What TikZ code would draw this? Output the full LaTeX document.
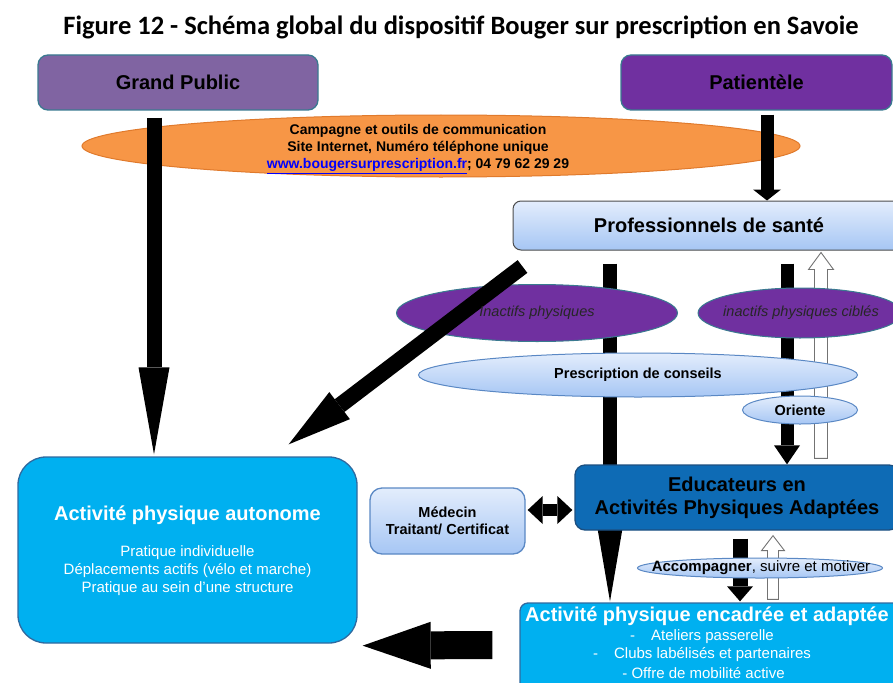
\documentclass[tikz,border=0pt]{standalone}
\usepackage{fontspec}
\setmainfont{Liberation Sans}
\newfontfamily\titlefont{Carlito}
\usetikzlibrary{shapes.geometric,arrows.meta,calc}
\pgfdeclarelayer{back}\pgfdeclarelayer{bg}\pgfdeclarelayer{front}\pgfdeclarelayer{top}
\pgfsetlayers{back,bg,main,front,top}
\definecolor{gpfill}{HTML}{8064A2}
\definecolor{purp}{HTML}{7030A0}
\definecolor{tealb}{HTML}{3A7A90}
\definecolor{orangef}{HTML}{F79646}
\definecolor{oranged}{HTML}{E07A2C}
\definecolor{lbtop}{HTML}{E3EDFC}
\definecolor{lbbot}{HTML}{A6C6F4}
\definecolor{lbdraw}{HTML}{5A88C4}
\definecolor{edufill}{HTML}{0E6BB5}
\definecolor{edudraw}{HTML}{1C4F80}
\definecolor{cyanf}{HTML}{00B0F0}
\definecolor{cyand}{HTML}{2F6AA0}
\definecolor{urlblue}{HTML}{0000FF}
\newcommand\hollowup[5]{%
  \draw[hollow] ($(#1)+(-#3,0)$) -- ($(#2)+(-#3,#5)$) -- ($(#2)+(-#4,#5)$) -- (#2)
    -- ($(#2)+(#4,#5)$) -- ($(#2)+(#3,#5)$) -- ($(#1)+(#3,0)$) -- cycle;}
\begin{document}
\begin{tikzpicture}[x=1pt,y=-1pt,
  box/.style={rectangle, rounded corners=#1, inner sep=0pt, line width=1.3pt},
  lbshade/.style={top color=lbtop, bottom color=lbbot},
  ell/.style={ellipse, inner sep=0pt, line width=1pt},
  bar/.style={draw=black, line width=#1},
  hollow/.style={draw=black!55, fill=white, line width=0.9pt},
  big/.style={font=\bfseries\fontsize{20}{23}\selectfont},
  small/.style={font=\fontsize{15}{18}\selectfont},
  smallb/.style={font=\bfseries\fontsize{14.5}{17.5}\selectfont},
  ital/.style={font=\itshape\fontsize{14.5}{17}\selectfont, text=black!85},
]
\useasboundingbox (0,0) rectangle (893,682);

\node[font=\titlefont\bfseries\fontsize{26.5}{30}\selectfont] (title) at (461,27)
  {Figure 12 - Schéma global du dispositif Bouger sur prescription en Savoie};

% top boxes
\node[box=10pt, fill=gpfill, draw=tealb, minimum width=280pt, minimum height=55pt, big] (gp) at (178,82.5) {Grand Public};
\node[box=10pt, fill=purp, draw=tealb, minimum width=271pt, minimum height=55pt, big] (pat) at (756.5,82.5) {Patientèle};

% campaign ellipse
\begin{pgfonlayer}{back}
\node[ell, fill=orangef, draw=oranged, minimum width=718pt, minimum height=62pt] (camp) at (441,146) {};
\end{pgfonlayer}
\node[align=center, font=\bfseries\fontsize{14}{17}\selectfont] (camptxt) at (418,149)
  {Campagne et outils de communication\\Site Internet, Numéro téléphone unique\\
   {\color{urlblue}\underline{www.bougersurprescription.fr}}; 04 79 62 29 29};

% professionals
\node[box=8pt, lbshade, draw=black!70, line width=1pt, minimum width=392pt, minimum height=49pt, big] (pro) at (709,225.5) {Professionnels de santé};

% ellipses
\node[ell, fill=purp, draw=tealb, minimum width=281pt, minimum height=57pt] (inact) at (537,313) {};
\begin{pgfonlayer}{top}
\node[ital] (inacttxt) at (537,313) {Inactifs physiques};
\end{pgfonlayer}
\node[ell, fill=purp, draw=tealb, minimum width=204pt, minimum height=50pt] (cible) at (800,313) {};
\node[ital] (cibletxt) at (801,313) {inactifs physiques ciblés};
\node[ell, lbshade, draw=lbdraw, minimum width=439pt, minimum height=44pt, smallb] (presc) at (638,375) {Prescription de conseils};
\node[ell, lbshade, draw=lbdraw, minimum width=115pt, minimum height=28pt, smallb] (ori) at (800,410) {Oriente};

% educateurs, medecin
\node[box=10pt, fill=edufill, draw=edudraw, minimum width=324pt, minimum height=65pt, big, align=center] (edu) at (737,497.5)
  {Educateurs en\\Activités Physiques Adaptées};
\node[box=12pt, lbshade, draw=lbdraw, minimum width=155pt, minimum height=66pt, smallb, align=center] (med) at (447.5,521)
  {Médecin\\Traitant/ Certificat};

% accompagner
\node[ell, lbshade, draw=lbdraw, minimum width=245pt, minimum height=20pt] (acc) at (760,568) {};
\node[small] (acctxt) at (761,568) {\textbf{Accompagner}, suivre et motiver};

% activite encadree
\node[box=8pt, fill=cyanf, draw=cyand, minimum width=385pt, minimum height=100pt] (enc) at (712.5,653) {};
\node[big, text=white, anchor=west, inner sep=0pt] (enct) at (525,616) {Activité physique encadrée et adaptée};
\node[small, text=white] (enc1) at (702,637) {-\hspace{16pt}Ateliers passerelle};
\node[small, text=white] (enc2) at (702,655) {-\hspace{16pt}Clubs labélisés et partenaires};
\node[small, text=white] (enc3) at (703.5,673) {- Offre de mobilité active};

% activite autonome
\node[box=28pt, fill=cyanf, draw=cyand, minimum width=339pt, minimum height=186pt] (auto) at (187.5,550) {};
\node[big, text=white] (autot) at (187.5,515) {Activité physique autonome};
\node[small, text=white, align=center] (autol) at (187.5,571)
  {Pratique individuelle\\Déplacements actifs (vélo et marche)\\Pratique au sein d’une structure};

% arrows behind
\begin{pgfonlayer}{bg}
\draw[bar=15pt, -{Triangle[length=87pt,width=31pt,line width=0pt]}] ($(gp.south)+(-24,7)$) -- ($(auto.north)+(-33.5,-2)$);
\draw[bar=13pt, -{Triangle[length=11pt,width=28pt,line width=0pt]}] ($(pat.south)+(10.5,4)$) -- ($(pro.north)+(58,0)$);
\draw[bar=14pt, -{Triangle[length=102pt,width=35pt,line width=0pt]}] ($(pro.south)+(-99,13)$) -- ($(enc.north)+(-102.5,-1)$);
\draw[bar=13pt, -{Triangle[length=19pt,width=26pt,line width=0pt]}] ($(pro.south)+(78,13)$) -- ($(edu.north)+(50,0)$);
\coordinate (h1b) at ($(edu.north)+(84,-6)$);
\coordinate (h1t) at ($(pro.south)+(112,2)$);
\hollowup{h1b}{h1t}{6.5}{12.5}{17}
\draw[bar=15pt, -{Triangle[length=15pt,width=26pt,line width=0pt]}] ($(edu.south)+(3,8)$) -- ($(enc.north)+(27.5,-1)$);
\coordinate (h2b) at ($(enc.north)+(60.5,-3)$);
\coordinate (h2t) at ($(edu.south)+(36,5)$);
\hollowup{h2b}{h2t}{5.5}{11.5}{15}
\end{pgfonlayer}

% other arrows
\draw[bar=12pt, {Triangle[length=15pt,width=28pt,line width=0pt]}-{Triangle[length=15pt,width=28pt,line width=0pt]}]
  ($(med.east)+(2,-11)$) -- ($(edu.west)+(-2,12.5)$);
\draw[bar=28pt, -{Triangle[length=68pt,width=47pt,line width=0pt]}] ($(enc.west)+(-27,-8)$) -- ($(auto.south east)+(5,2)$);
\begin{pgfonlayer}{front}
\draw[bar=16pt, -{Triangle[length=64pt,width=34pt,line width=0pt]}] ($(pro.south west)+(10,16)$) -- ($(auto.north east)+(-69,-12)$);
\end{pgfonlayer}
\end{tikzpicture}
\end{document}
